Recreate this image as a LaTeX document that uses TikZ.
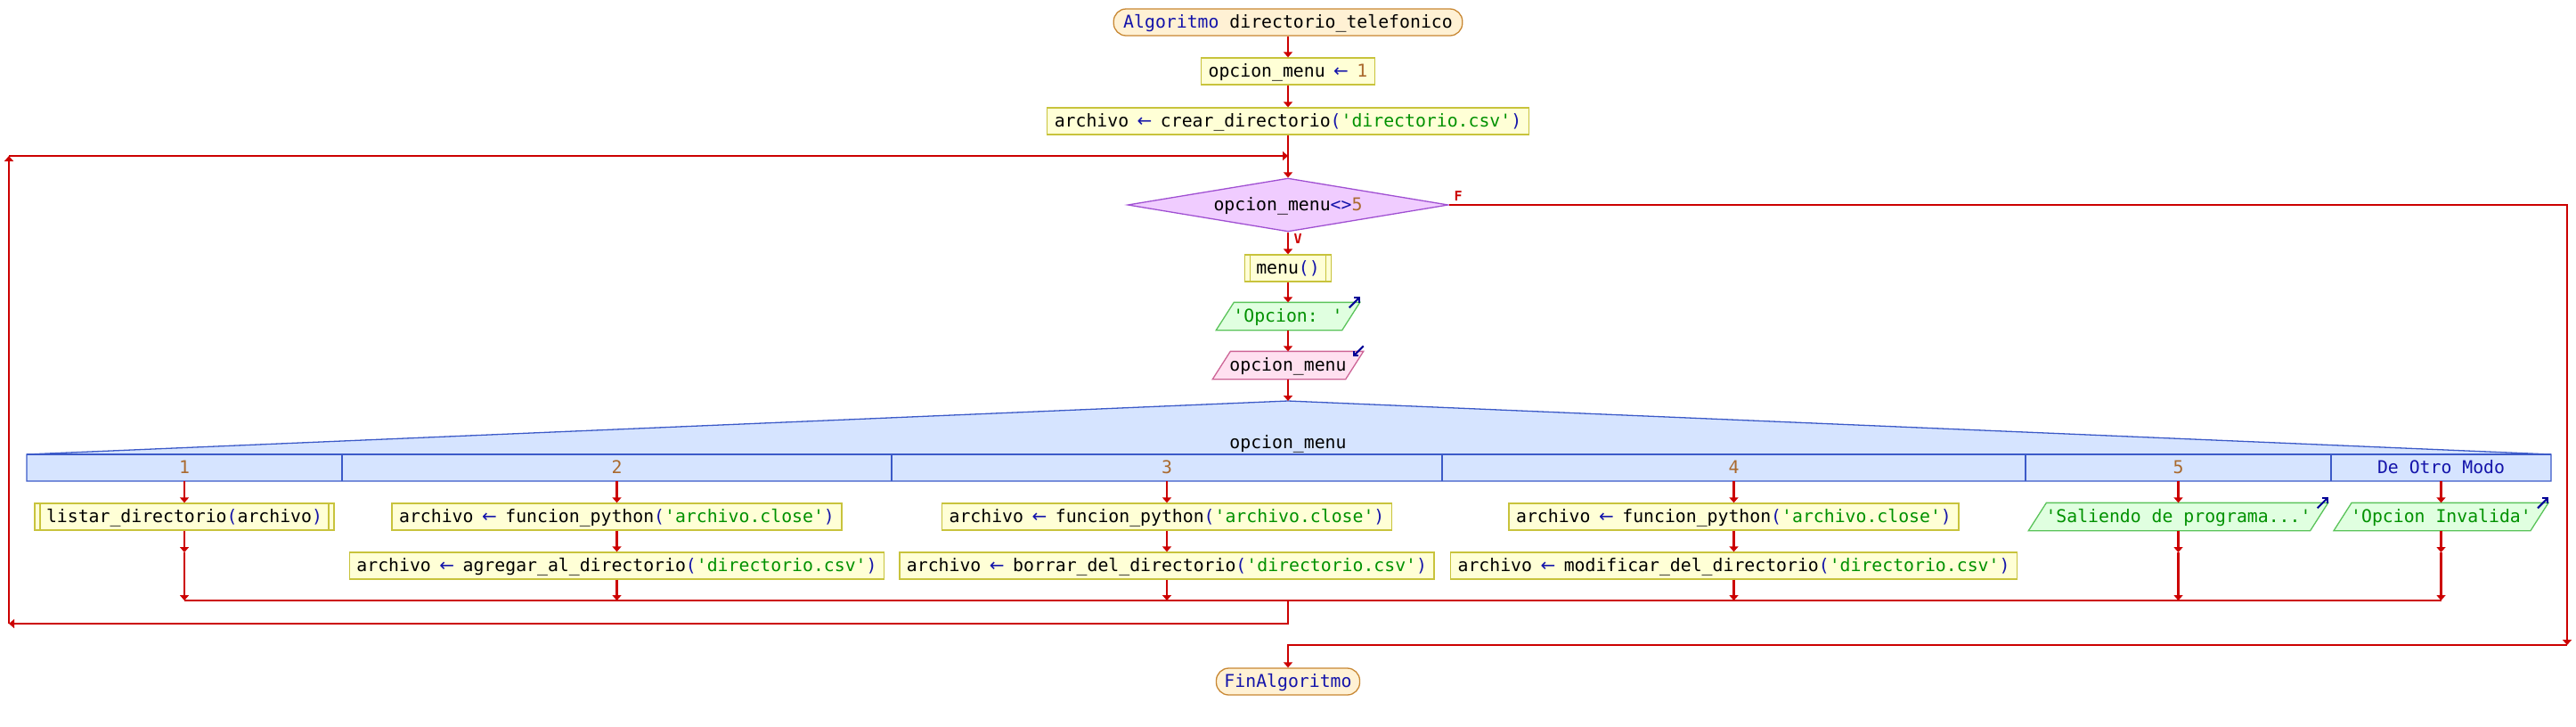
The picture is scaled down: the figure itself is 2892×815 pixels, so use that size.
\documentclass[tikz,border=0pt]{standalone}
\usepackage{fontspec}
\usetikzlibrary{arrows.meta,shapes.geometric,backgrounds}
\newfontfamily\monof{DejaVu Sans Mono}
\newfontfamily\arrf{DejaVu Sans}
\definecolor{kwblue}{RGB}{20,20,170}
\definecolor{strgreen}{RGB}{0,145,0}
\definecolor{numbrown}{RGB}{170,105,45}
\definecolor{flowred}{RGB}{204,0,0}
\definecolor{termfill}{RGB}{255,241,212}
\definecolor{termdraw}{RGB}{200,135,50}
\definecolor{asgfill}{RGB}{255,255,214}
\definecolor{asgdraw}{RGB}{200,195,60}
\definecolor{condfill}{RGB}{240,204,255}
\definecolor{conddraw}{RGB}{160,80,210}
\definecolor{outfill}{RGB}{224,255,224}
\definecolor{outdraw}{RGB}{90,195,90}
\definecolor{infill}{RGB}{255,224,240}
\definecolor{indraw}{RGB}{205,100,150}
\definecolor{segfill}{RGB}{214,228,255}
\definecolor{segdraw}{RGB}{60,90,200}
\definecolor{iconblue}{RGB}{0,0,150}
\newcommand\kwB[1]{\textcolor{kwblue}{#1}}
\newcommand\opB[1]{\textcolor{kwblue}{#1}}
\newcommand\strG[1]{\textcolor{strgreen}{#1}}
\newcommand\numB[1]{\textcolor{numbrown}{#1}}
\newcommand\asgarrow{\textcolor{kwblue}{\makebox[11.92pt]{\arrf\fontsize{20}{24}\selectfont ←}}}
\newcommand\drawpara[2]{\begin{pgfonlayer}{background}\filldraw[#2, line width=1.3pt] ([xshift=-10pt]#1.south west) -- ([xshift=10pt]#1.north west) -- ([xshift=10pt]#1.north east) -- ([xshift=-10pt]#1.south east) -- cycle;\end{pgfonlayer}}
\newcommand\outicon[1]{\draw[iconblue, line width=2pt, -{Straight Barb[length=4pt,width=8pt]}] ([xshift=-2pt,yshift=-6pt]#1.north east) -- ([xshift=10pt,yshift=6pt]#1.north east);}
\newcommand\inicon[1]{\draw[iconblue, line width=2pt, -{Straight Barb[length=4pt,width=8pt]}] ([xshift=10pt,yshift=6pt]#1.north east) -- ([xshift=-2pt,yshift=-6pt]#1.north east);}
\tikzset{
  every node/.style={font=\monof\fontsize{19.8}{24}\selectfont, text height=14.5pt, text depth=1pt},
  base/.style={minimum height=30pt, inner ysep=0pt, line width=1.3pt},
  asg/.style={base, draw=asgdraw, fill=asgfill, inner xsep=8pt},
  sub/.style={asg, inner xsep=13pt, path picture={\draw[asgdraw,line width=1.3pt] ([xshift=6pt]path picture bounding box.north west) -- ([xshift=6pt]path picture bounding box.south west) ([xshift=-6pt]path picture bounding box.north east) -- ([xshift=-6pt]path picture bounding box.south east);}},
  term/.style={base, draw=termdraw, fill=termfill, rounded corners=14pt, inner xsep=11pt},
  io/.style={base, inner xsep=8.5pt},
  condbox/.style={diamond, draw=conddraw, fill=condfill, line width=1.3pt, minimum width=360pt, minimum height=60pt, inner sep=0pt},
  flow/.style={draw=flowred, line width=2.2pt},
  arr/.style={flow, -{Triangle[width=10pt,length=6pt]}},
  lbl/.style={text=flowred, font=\monof\bfseries\fontsize{15}{18}\selectfont}
}
\begin{document}
\begin{tikzpicture}[x=1pt,y=-1pt]
\useasboundingbox (0,0) rectangle (2892,815);
% main column
\node[term] (start) at (1446,25) {\kwB{Algoritmo} directorio\_telefonico};
\node[asg] (a1) at (1446,80) {opcion\_menu \asgarrow{} \numB{1}};
\node[asg] (a2) at (1446,136) {archivo \asgarrow{} crear\_directorio\opB{(}\strG{'directorio.csv'}\opB{)}};
\node[condbox] (cond) at (1446,230) {};
\node (condtxt) at (cond.center) {opcion\_menu\opB{<>}\numB{5}};
\node[lbl] (flab) at (1637,219) {F};
\node[lbl] (vlab) at (1457,267) {V};
\node[sub] (menu) at (1446,301) {menu\opB{()}};
\node[io] (out1) at (1446,355) {\strG{'Opcion: '}};
\drawpara{out1}{draw=outdraw, fill=outfill}
\outicon{out1}
\node[io] (in1) at (1446,410) {opcion\_menu};
\drawpara{in1}{draw=indraw, fill=infill}
\inicon{in1}
% segun
\coordinate (segtop) at (1446,450);
\filldraw[draw=segdraw, fill=segfill, line width=1.3pt] (30,540) -- (30,510) -- (segtop) -- (2864,510) -- (2864,540) -- cycle;
\draw[segdraw, line width=1.3pt] (30,510) -- (2864,510) (384,510) -- (384,540) (1001,510) -- (1001,540) (1619,510) -- (1619,540) (2274,510) -- (2274,540) (2617,510) -- (2617,540);
\node (seglbl) at (1446,497) {opcion\_menu};
\node (k1) at (207,525) {\numB{1}};
\node (k2) at (692.5,525) {\numB{2}};
\node (k3) at (1310,525) {\numB{3}};
\node (k4) at (1946.5,525) {\numB{4}};
\node (k5) at (2445.5,525) {\numB{5}};
\node (k6) at (2740.5,525) {\kwB{De Otro Modo}};
\foreach \n/\x in {1/207,2/692.5,3/1310,4/1946.5,5/2445.5,6/2740.5}{
  \coordinate (h\n) at (\x,540);
  \coordinate (m\n) at (\x,620);
  \coordinate (j\n) at (\x,674);
}
% rows
\node[sub] (r11) at (207,580) {listar\_directorio\opB{(}archivo\opB{)}};
\node[asg] (r21) at (692.5,580) {archivo \asgarrow{} funcion\_python\opB{(}\strG{'archivo.close'}\opB{)}};
\node[asg] (r22) at (692.5,635) {archivo \asgarrow{} agregar\_al\_directorio\opB{(}\strG{'directorio.csv'}\opB{)}};
\node[asg] (r31) at (1310,580) {archivo \asgarrow{} funcion\_python\opB{(}\strG{'archivo.close'}\opB{)}};
\node[asg] (r32) at (1310,635) {archivo \asgarrow{} borrar\_del\_directorio\opB{(}\strG{'directorio.csv'}\opB{)}};
\node[asg] (r41) at (1946.5,580) {archivo \asgarrow{} funcion\_python\opB{(}\strG{'archivo.close'}\opB{)}};
\node[asg] (r42) at (1946.5,635) {archivo \asgarrow{} modificar\_del\_directorio\opB{(}\strG{'directorio.csv'}\opB{)}};
\node[io] (r51) at (2445.5,580) {\strG{'Saliendo de programa...'}};
\drawpara{r51}{draw=outdraw, fill=outfill}
\outicon{r51}
\node[io] (r61) at (2740.5,580) {\strG{'Opcion Invalida'}};
\drawpara{r61}{draw=outdraw, fill=outfill}
\outicon{r61}
\node[term, inner xsep=9pt] (fin) at (1446,765) {\kwB{FinAlgoritmo}};
% main connectors
\draw[arr] (start.south) -- (a1.north);
\draw[arr] (a1.south) -- (a2.north);
\draw[arr] (a2.south) -- (cond.north);
\draw[arr] (cond.south) -- (menu.north);
\draw[arr] (menu.south) -- (out1.north);
\draw[arr] (out1.south) -- (in1.north);
\draw[arr] (in1.south) -- (segtop);
% columns
\draw[arr] (h1) -- (r11.north);
\draw[arr] (r11.south) -- (m1);
\draw[arr] (m1) -- (j1);
\draw[arr] (h2) -- (r21.north);
\draw[arr] (r21.south) -- (r22.north);
\draw[arr] (r22.south) -- (j2);
\draw[arr] (h3) -- (r31.north);
\draw[arr] (r31.south) -- (r32.north);
\draw[arr] (r32.south) -- (j3);
\draw[arr] (h4) -- (r41.north);
\draw[arr] (r41.south) -- (r42.north);
\draw[arr] (r42.south) -- (j4);
\draw[arr] (h5) -- (r51.north);
\draw[arr] (r51.south) -- (m5);
\draw[arr] (m5) -- (j5);
\draw[arr] (h6) -- (r61.north);
\draw[arr] (r61.south) -- (m6);
\draw[arr] (m6) -- (j6);
\draw[flow] (j1) -- (j6);
% loop back
\coordinate (jm) at (1446,674);
\coordinate (lb) at (1446,700);
\coordinate (ll) at (10,700);
\coordinate (lt) at (10,175);
\coordinate (lr) at (1446,175);
\draw[arr] (jm) -- (lb) -- (ll);
\draw[arr] (ll) -- (lt);
\draw[arr] (lt) -- (lr);
% false branch
\coordinate (fr) at (2882,230);
\coordinate (fb) at (2882,724);
\coordinate (fm) at (1446,724);
\draw[arr] (cond.east) -- (fr) -- (fb);
\draw[arr] (fb) -- (fm) -- (fin.north);
\end{tikzpicture}
\end{document}
